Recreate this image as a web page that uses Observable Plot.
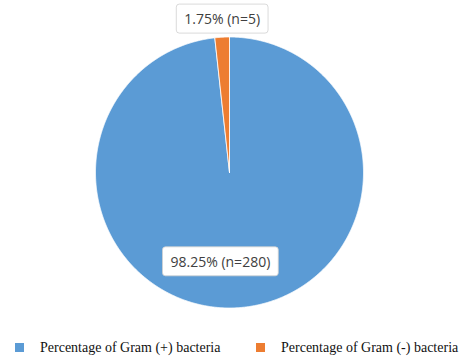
<!DOCTYPE html>
<html>
<head>
<meta charset="utf-8">
<script src="https://cdn.jsdelivr.net/npm/d3@7"></script>
<script src="https://cdn.jsdelivr.net/npm/@observablehq/plot@0.6"></script>
<style>
  body { margin: 0; background: #fff; }
  #chart { position: relative; width: 466px; height: 360px; overflow: hidden; }
  #chart > svg { position: absolute; left: 0; top: 0; }
  #legend { position: absolute; left: 15px; top: 339px; }
  #legend .leg-swatches { margin: 0 !important; min-height: 0 !important; display: flex !important; align-items: center !important; flex-wrap: nowrap !important; }
  #legend .leg-swatch { display: inline-flex !important; align-items: center !important; margin-right: 0 !important; line-height: 17px; white-space: nowrap; }
  #legend span.leg-swatch:first-of-type { min-width: 241px; }
  #legend .leg-swatch > svg { margin-right: 16px !important; }
</style>
</head>
<body>
<div id="chart"><div id="legend"></div></div>
<script>
// Gram stain breakdown of the isolates
const categories = ["Percentage of Gram (+) bacteria", "Percentage of Gram (-) bacteria"];
const percents = [98.25, 1.75];
const counts = [280, 5];
const colors = ["#5B9BD5", "#ED7D31"];

const rows = categories.map((cat, i) => ({cat, pct: percents[i], n: counts[i]}));

// Slice angles, clockwise from 12 o'clock, in data order
const arcs = d3.pie().sort(null).value(d => d.pct)(rows);

// Each slice as a closed polygon in unit-circle coordinates (y up)
const slicePoints = arcs.flatMap(a => {
  const steps = Math.max(2, Math.ceil((a.endAngle - a.startAngle) / 0.005));
  const pts = [{cat: a.data.cat, x: 0, y: 0}];
  for (let k = 0; k <= steps; ++k) {
    const t = a.startAngle + (a.endAngle - a.startAngle) * k / steps;
    pts.push({cat: a.data.cat, x: Math.sin(t), y: Math.cos(t)});
  }
  pts.push({cat: a.data.cat, x: 0, y: 0});
  return pts;
});

// Labels: the large slice inside, the thin slice just outside its end
const labels = arcs.map(a => {
  const mid = (a.startAngle + a.endAngle) / 2;
  const inside = a.data.pct > 50;
  const r = inside ? 0.664 : 1.13;
  return {
    x: r * Math.sin(mid),
    y: r * Math.cos(mid),
    text: `${a.data.pct.toFixed(2)}% (n=${a.data.n})`,
    inside
  };
});

const labelStyle = {x: "x", y: "y", text: "text", fontSize: 14, fontFamily: "Open Sans", fill: "#404040"};

const chart = Plot.plot({
  width: 466,
  height: 330,
  margin: 0,
  x: {domain: [-1, 1], range: [95, 363], axis: null},
  y: {domain: [-1, 1], range: [307.5, 36.5], axis: null},
  color: {domain: categories, range: colors},
  marks: [
    Plot.line(slicePoints, {x: "x", y: "y", z: "cat", fill: "cat", stroke: "#ffffff", strokeWidth: 0.8, curve: "linear"}),
    Plot.text(labels.filter(d => d.inside), {...labelStyle, dx: -14}),
    Plot.text(labels.filter(d => !d.inside), {...labelStyle, dx: 1})
  ]
});
document.getElementById("chart").insertBefore(chart, document.getElementById("legend"));

// White rounded boxes behind the data labels
chart.querySelectorAll('g[aria-label="text"] text').forEach(t => {
  const b = t.getBBox();
  const padX = 8, padY = 5;
  const rect = document.createElementNS("http://www.w3.org/2000/svg", "rect");
  const tr = t.getAttribute("transform");
  if (tr) rect.setAttribute("transform", tr);
  rect.setAttribute("x", b.x - padX);
  rect.setAttribute("y", b.y - padY);
  rect.setAttribute("width", b.width + 2 * padX);
  rect.setAttribute("height", b.height + 2 * padY);
  rect.setAttribute("rx", 3);
  rect.setAttribute("fill", "#ffffff");
  rect.setAttribute("stroke", "#d0d0d0");
  rect.setAttribute("stroke-width", 0.8);
  t.parentNode.insertBefore(rect, t);
});

const legend = Plot.legend({
  color: {domain: categories, range: colors},
  swatchSize: 9,
  className: "leg",
  style: {fontFamily: "'Liberation Serif', serif", fontSize: "14px", color: "#111"}
});
document.getElementById("legend").appendChild(legend);
</script>
</body>
</html>
